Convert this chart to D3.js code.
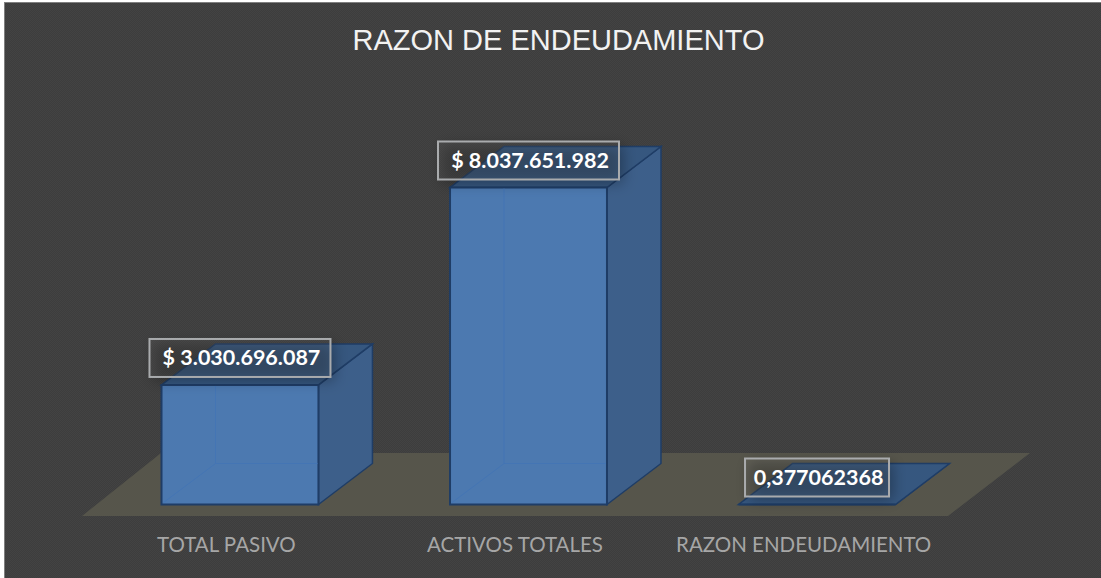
<!DOCTYPE html>
<html>
<head>
<meta charset="utf-8">
<script src="https://cdn.jsdelivr.net/npm/d3@7"></script>
<style>
html, body { margin: 0; padding: 0; background: #fff; }
svg { display: block; }
.x-Axis text { font-family: Lato, sans-serif; font-size: 20.5px; fill: #a6a6a6; }
.title { font-family: "Liberation Sans", Arial, sans-serif; font-size: 29px; fill: #f2f2f2; }
.bar-label { font-family: Lato, sans-serif; font-weight: 700; font-size: 21.5px; fill: #fff; }
</style>
</head>
<body>
<div id="chart"></div>
<script>
var categories = ['TOTAL PASIVO', 'ACTIVOS TOTALES', 'RAZON ENDEUDAMIENTO'];
var values = [3030696087, 8037651982, 0.377062368];
var valueLabels = ['$ 3.030.696.087', '$ 8.037.651.982', '0,377062368'];
var labelWidths = [181, 181, 144];

var width = 1101, height = 578;
var margin = {top: 3, left: 5};
var baseY = 504.5;          // front edge of the bars
var depthX = 54, depthY = -41;

var svg = d3.select('#chart').append('svg')
    .attr('width', width)
    .attr('height', height);

var defs = svg.append('defs');

// chart area has a fine dither in the reference
var dither = defs.append('pattern')
    .attr('id', 'dither')
    .attr('width', 2).attr('height', 2)
    .attr('patternUnits', 'userSpaceOnUse');
dither.append('rect').attr('width', 2).attr('height', 2).attr('fill', '#3d3d3d');
dither.append('rect').attr('width', 1).attr('height', 1).attr('fill', '#434343');
dither.append('rect').attr('x', 1).attr('y', 1).attr('width', 1).attr('height', 1).attr('fill', '#434343');

var shadow = defs.append('filter')
    .attr('id', 'label-shadow')
    .attr('x', '-20%').attr('y', '-40%').attr('width', '140%').attr('height', '180%');
shadow.append('feGaussianBlur').attr('stdDeviation', 7);

svg.append('rect')
    .attr('x', margin.left - 0.5).attr('y', margin.top - 0.5)
    .attr('width', width).attr('height', height)
    .attr('fill', 'url(#dither)')
    .attr('stroke', '#7f7f7f');

var x = d3.scaleBand()
    .domain(categories)
    .range([161.5, 895.5])
    .paddingInner(0.456)
    .paddingOuter(0);

var y = d3.scaleLinear()
    .domain([0, d3.max(values)])
    .range([baseY, 187.5]);

// the floor's front edge carries the category axis
var xFloor = d3.scaleBand()
    .domain(categories)
    .range([82, 948]);

function poly(points) {
    return 'M' + points.map(function(p) { return p.join(','); }).join('L') + 'Z';
}

// floor
svg.append('path')
    .attr('class', 'floor')
    .attr('d', poly([[82, 516], [948, 516], [1030, 453], [161, 453]]))
    .attr('fill', '#56554b');

var bars = svg.selectAll('.bar')
    .data(categories)
    .enter().append('g')
    .attr('class', 'bar');

var edge = '#1f3d66';

// side
bars.append('path')
    .attr('d', function(d, i) {
        var r = x(d) + x.bandwidth(), t = y(values[i]);
        return poly([[r, baseY], [r + depthX, baseY + depthY], [r + depthX, t + depthY], [r, t]]);
    })
    .attr('fill', '#3d5f8a').attr('stroke', edge).attr('stroke-width', 1.5);

// top
bars.append('path')
    .attr('d', function(d, i) {
        var l = x(d), r = l + x.bandwidth(), t = y(values[i]);
        return poly([[l, t], [r, t], [r + depthX, t + depthY], [l + depthX, t + depthY]]);
    })
    .attr('fill', '#36577f').attr('stroke', edge).attr('stroke-width', 1.5);

// front
bars.append('path')
    .attr('d', function(d, i) {
        var l = x(d), r = l + x.bandwidth(), t = y(values[i]);
        return poly([[l, baseY], [r, baseY], [r, t], [l, t]]);
    })
    .attr('fill', '#4c79b0')
    .attr('stroke', edge).attr('stroke-width', 2);

// hidden back edges show faintly through the front face
bars.filter(function(d) { return y(values[categories.indexOf(d)]) < baseY - 1; })
    .append('path')
    .attr('d', function(d) {
        var l = x(d), t = y(values[categories.indexOf(d)]), bx = l + depthX, by = baseY + depthY;
        return 'M' + (l + 2) + ',' + (baseY - 2) + 'L' + bx + ',' + by +
            'L' + (l + x.bandwidth() - 1) + ',' + by + 'M' + bx + ',' + by + 'L' + bx + ',' + (t + 1);
    })
    .attr('fill', 'none').attr('stroke', '#4475b4').attr('stroke-width', 1);

// labels, centred over the top of the bars
var labels = svg.selectAll('.label')
    .data(categories)
    .enter().append('g')
    .attr('class', 'label')
    .attr('transform', function(d, i) {
        return 'translate(' + (x(d) + x.bandwidth() / 2) + ',' + (y(values[i]) - 27) + ')';
    });

labels.append('rect')
    .attr('x', function(d, i) { return -labelWidths[i] / 2 + 4; })
    .attr('y', -15).attr('width', function(d, i) { return labelWidths[i]; }).attr('height', 38)
    .attr('fill', '#000').attr('fill-opacity', 0.3)
    .attr('filter', 'url(#label-shadow)');

labels.append('rect')
    .attr('x', function(d, i) { return -labelWidths[i] / 2; })
    .attr('y', -19).attr('width', function(d, i) { return labelWidths[i]; }).attr('height', 38)
    .attr('fill', '#fff').attr('fill-opacity', 0.06)
    .attr('stroke', '#a9abad').attr('stroke-width', 2);

labels.append('text')
    .attr('class', 'bar-label')
    .attr('text-anchor', 'middle')
    .attr('dx', 1.5)
    .attr('dy', 7.5)
    .text(function(d, i) { return valueLabels[i]; });

// category axis
var xaxis = svg.append('g')
    .attr('class', 'x-Axis')
    .attr('transform', 'translate(0,' + 516 + ')')
    .call(d3.axisBottom(xFloor).tickSize(0).tickPadding(21));
xaxis.select('.domain').remove();
xaxis.selectAll('text').attr('font-family', null).attr('font-size', null);

svg.append('text')
    .attr('class', 'title')
    .attr('x', 558.5)
    .attr('y', 50)
    .attr('text-anchor', 'middle')
    .text('RAZON DE ENDEUDAMIENTO');
</script>
</body>
</html>
